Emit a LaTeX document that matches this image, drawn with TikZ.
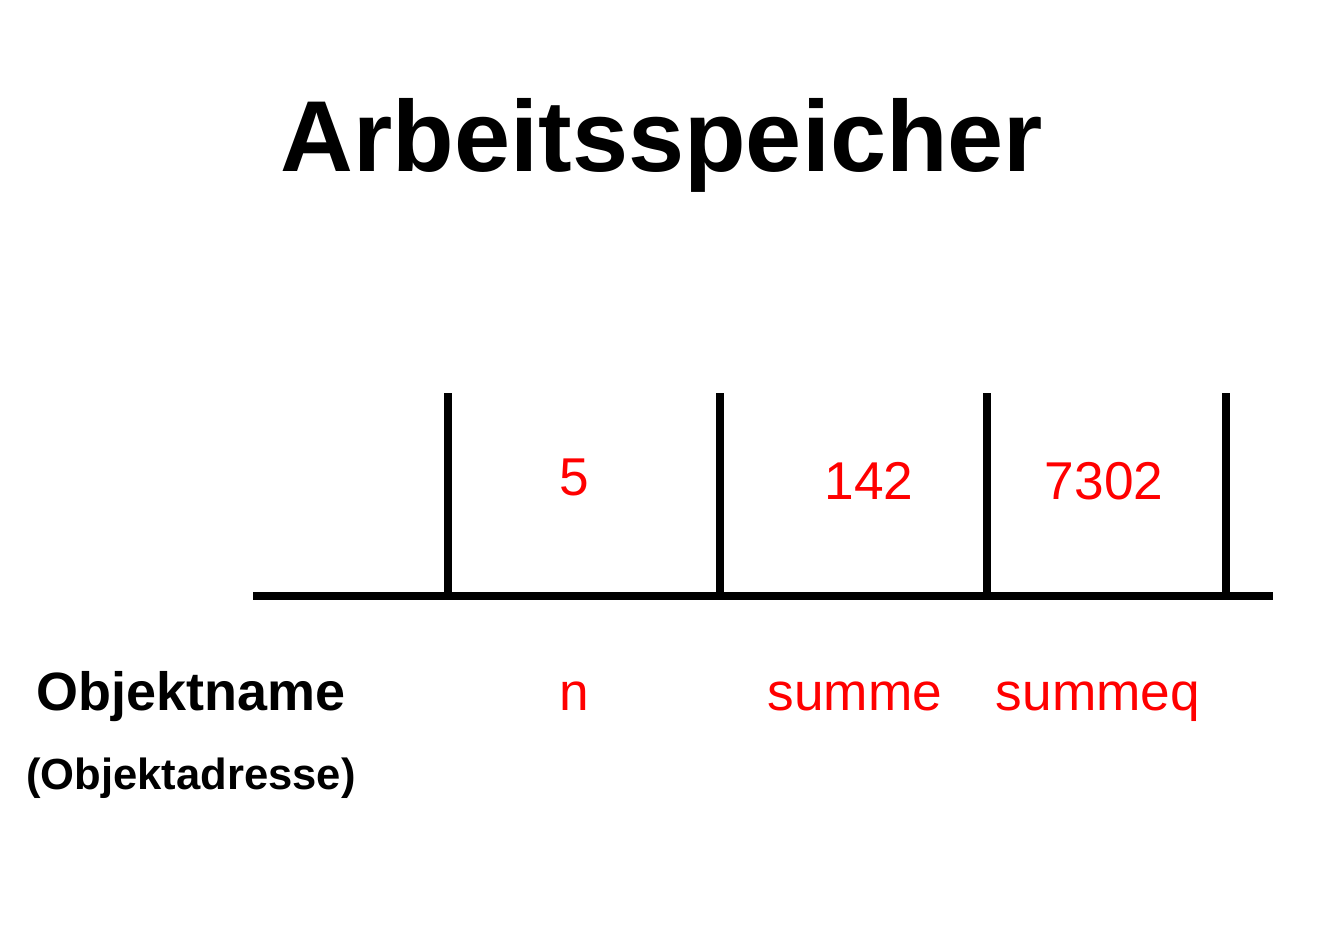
\documentclass[tikz,border=0pt]{standalone}
\usepackage{fontspec}
\setmainfont{Liberation Sans}
\tikzset{
  wert/.style={text=red,font=\fontsize{30.3}{36}\selectfont,anchor=base,inner sep=0pt},
  beschr/.style={font=\bfseries\fontsize{30.7}{36}\selectfont,anchor=base,inner sep=0pt}
}
\begin{document}
\begin{tikzpicture}[x=0.02cm,y=-0.02cm,line join=round,line width=4.8pt]
\useasboundingbox (0,0) rectangle (1321,934);
\node[anchor=base,inner sep=0pt,font=\bfseries\fontsize{57.4}{68}\selectfont] (titel) at (662,171) {Arbeitsspeicher};
% Speicherzellen
\draw (253,596)--(1273,596);
\foreach \x in {448,720,987,1226}
\draw (\x,393)--(\x,596);
\node[wert] (w5) at (574,495) {5};
\node[wert] (w142) at (869,499) {142};
\node[wert] (w7302) at (1104,499) {7302};
% Namen
\node[beschr] (objname) at (191,710) {Objektname};
\node[beschr,font=\bfseries\fontsize{24.8}{30}\selectfont] (objadr) at (191,789) {(Objektadresse)};
\node[wert] (nn) at (574,710) {n};
\node[wert] (nsumme) at (855,710) {summe};
\node[wert] (nsummeq) at (1098,710) {summeq};
\end{tikzpicture}
\end{document}
